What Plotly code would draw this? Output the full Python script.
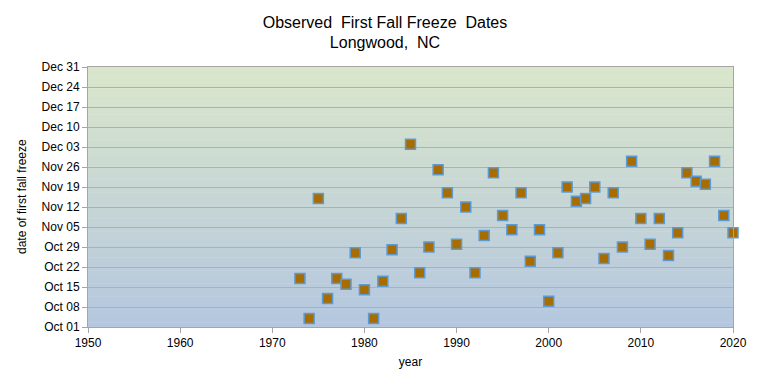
import plotly.graph_objects as go
import pandas as pd

years = list(range(1973, 2021))
freeze_dates = [
    "Oct 18", "Oct 04", "Nov 15", "Oct 11", "Oct 18", "Oct 16", "Oct 27", "Oct 14",
    "Oct 04", "Oct 17", "Oct 28", "Nov 08", "Dec 04", "Oct 20", "Oct 29", "Nov 25",
    "Nov 17", "Oct 30", "Nov 12", "Oct 20", "Nov 02", "Nov 24", "Nov 09", "Nov 04",
    "Nov 17", "Oct 24", "Nov 04", "Oct 10", "Oct 27", "Nov 19", "Nov 14", "Nov 15",
    "Nov 19", "Oct 25", "Nov 17", "Oct 29", "Nov 28", "Nov 08", "Oct 30", "Nov 08",
    "Oct 26", "Nov 03", "Nov 24", "Nov 21", "Nov 20", "Nov 28", "Nov 09", "Nov 03",
]
x_ticks = [1950, 1960, 1970, 1980, 1990, 2000, 2010, 2020]

# map month/day onto a common reference year for the date axis
y_dates = pd.to_datetime(["2000 " + d for d in freeze_dates], format="%Y %b %d")

fig = go.Figure()

# gradient plot background (green top -> blue bottom)
n = 60
top = (0xDA, 0xE6, 0xCB)
bot = (0xB4, 0xC7, 0xDF)
for i in range(n):
    t = i / (n - 1)
    c = tuple(round(bot[k] + (top[k] - bot[k]) * t) for k in range(3))
    fig.add_shape(type="rect", xref="paper", yref="paper",
                  x0=0, x1=1, y0=i / n, y1=(i + 1) / n + 0.002,
                  fillcolor="rgb(%d,%d,%d)" % c, line_width=0, layer="below")

fig.add_trace(go.Scatter(
    x=years, y=y_dates, mode="markers",
    marker=dict(symbol="square", size=10, color="#A86C00",
                line=dict(color="#5B9BD5", width=1.5)),
    showlegend=False, cliponaxis=False,
))

font = "Liberation Sans, Arial, sans-serif"
fig.update_layout(
    width=754, height=377,
    margin=dict(l=80, r=29, t=59, b=58, autoexpand=False),
    paper_bgcolor="white", plot_bgcolor="rgba(0,0,0,0)",
    font=dict(family=font, size=12, color="black"),
    title=dict(text="Observed  First Fall Freeze  Dates<br>Longwood,  NC",
               x=0.5, xanchor="center", y=0.948, yanchor="top",
               font=dict(size=16, family=font, color="black")),
    xaxis=dict(range=[1950, 2020], tickvals=x_ticks, showgrid=False,
               zeroline=False, showline=True, linecolor="#A6A6A6", linewidth=1,
               ticks="outside", ticklen=5, tickcolor="#A6A6A6", mirror=True,
               title=dict(text="year", font=dict(size=12), standoff=8),
               tickfont=dict(size=12)),
    yaxis=dict(type="date", range=["2000-10-01", "2000-12-31"],
               tick0="2000-10-01", dtick=7 * 86400000, tickformat="%b %d",
               showgrid=True, gridcolor="#B0B0B0", gridwidth=1,
               zeroline=False, showline=True, linecolor="#A6A6A6", linewidth=1,
               ticks="outside", ticklen=5, tickcolor="#A6A6A6", mirror=True,
               tickfont=dict(size=12)),
    annotations=[dict(text="date of first fall freeze", xref="paper", yref="paper",
                      x=-0.1023, y=0.5, xanchor="center", yanchor="middle",
                      textangle=-90, showarrow=False, font=dict(size=12))],
)

fig.write_html("out.html")
